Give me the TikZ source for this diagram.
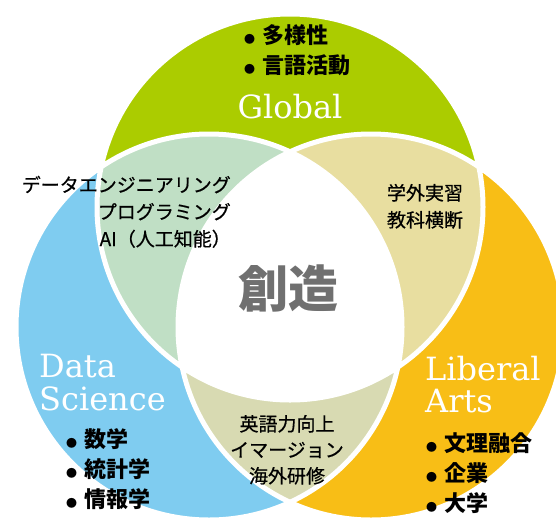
\documentclass[tikz,border=0pt]{standalone}
\usepackage{fontspec}
\newfontfamily\jpfont{Noto Sans CJK JP}
\newfontfamily\jpmidfont{Noto Sans CJK JP}[FakeBold=0.6]
\newfontfamily\ttlfont{DejaVu Serif}
\definecolor{globalgreen}{RGB}{171,204,0}
\definecolor{datablue}{RGB}{127,204,240}
\definecolor{artsorange}{RGB}{248,190,22}
\definecolor{gdmix}{RGB}{192,223,197}
\definecolor{gamix}{RGB}{232,222,160}
\definecolor{damix}{RGB}{216,218,178}
\definecolor{coregrey}{RGB}{112,112,112}
\tikzset{
	areatitle/.style={text=white, font=\ttlfont\fontsize{32}{32}\selectfont, inner sep=0pt},
	listitem/.style={font=\jpfont\bfseries\fontsize{22}{22}\selectfont, inner sep=0pt},
	overlaptext/.style={font=\jpmidfont\fontsize{19}{19}\selectfont, inner sep=0pt},
}
\newcommand{\dotmark}{{\fontsize{11}{11}\selectfont ●}\hspace{7pt}}

\begin{document}
\begin{tikzpicture}[x=1pt, y=-1pt]
	\useasboundingbox (0,0) rectangle (556,520);
	\clip (0,0) rectangle (556,520);
	\coordinate (top) at (290,207);
	\coordinate (left) at (209,327);
	\coordinate (right) at (371,327);
	% the three circles
	\fill[globalgreen] (top) circle[radius=193pt];
	\fill[datablue] (left) circle[radius=193pt];
	\fill[artsorange] (right) circle[radius=193pt];
	% overlaps
	\begin{scope}
		\clip (top) circle[radius=193pt];
		\fill[gdmix] (left) circle[radius=193pt];
		\fill[gamix] (right) circle[radius=193pt];
	\end{scope}
	\begin{scope}
		\clip (left) circle[radius=193pt];
		\fill[damix] (right) circle[radius=193pt];
		\clip (top) circle[radius=193pt];
		\fill[white] (right) circle[radius=193pt];
	\end{scope}
	\draw[white, line width=5pt] (top) circle[radius=193pt]
		(left) circle[radius=193pt] (right) circle[radius=193pt];

	% titles
	\node[areatitle, anchor=base] (glob) at (290,118) {Global};
	\node[areatitle, anchor=base west] (data) at (39,377) {Data};
	\node[areatitle, anchor=base west] (sci) at (39,410) {Science};
	\node[areatitle, anchor=base west] (lib) at (425,380) {Liberal};
	\node[areatitle, anchor=base west] (arts) at (425,412) {Arts};

	% lists
	\node[listitem, anchor=base west] (glob1) at (244,43) {\dotmark 多様性};
	\node[listitem, anchor=base west] (glob2) at (244,73) {\dotmark 言語活動};
	\node[listitem, anchor=base west] (data1) at (66,447) {\dotmark 数学};
	\node[listitem, anchor=base west] (data2) at (66,477) {\dotmark 統計学};
	\node[listitem, anchor=base west] (data3) at (66,507) {\dotmark 情報学};
	\node[listitem, anchor=base west] (arts1) at (426,451) {\dotmark 文理融合};
	\node[listitem, anchor=base west] (arts2) at (426,481) {\dotmark 企業};
	\node[listitem, anchor=base west] (arts3) at (426,511) {\dotmark 大学};

	% overlap texts
	\node[overlaptext, anchor=base east] (gd1) at (231,192) {データエンジニアリング};
	\node[overlaptext, anchor=base east] (gd2) at (231,219) {プログラミング};
	\node[overlaptext, anchor=base east] (gd3) at (231,246) {AI（人工知能）};
	\node[overlaptext, anchor=base] (ga1) at (425,200) {学外実習};
	\node[overlaptext, anchor=base] (ga2) at (425,227) {教科横断};
	\node[overlaptext, anchor=base] (da1) at (287,431) {英語力向上};
	\node[overlaptext, anchor=base] (da2) at (287,457) {イマージョン};
	\node[overlaptext, anchor=base] (da3) at (287,483) {海外研修};

	% centre
	\node[font=\jpfont\bfseries\fontsize{50}{50}\selectfont, text=coregrey] (core) at (288,288) {創造};
\end{tikzpicture}
\end{document}
